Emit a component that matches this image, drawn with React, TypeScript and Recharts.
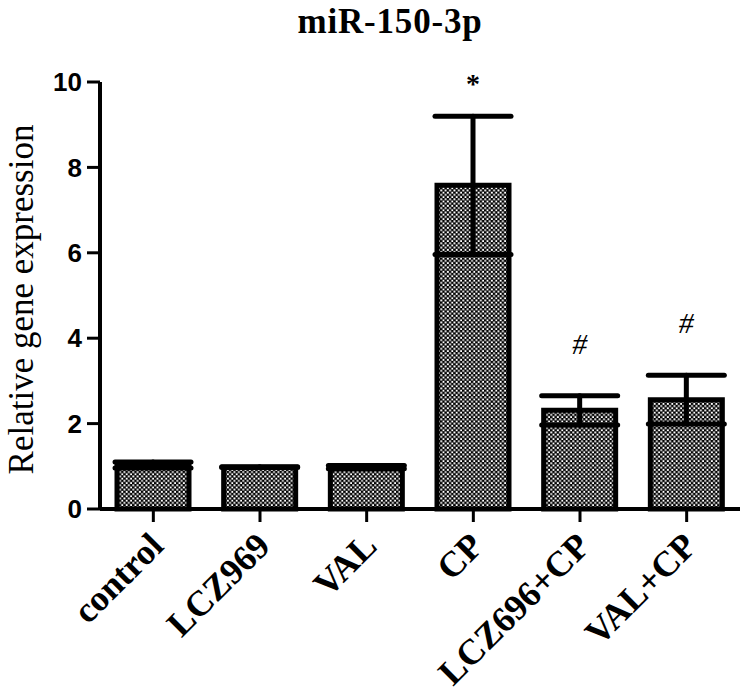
import React from 'react';
import { BarChart, Bar, XAxis, YAxis, ErrorBar, LabelList } from 'recharts';

// Group names, means and SEMs
const groups = ['control', 'LCZ969', 'VAL', 'CP', 'LCZ696+CP', 'VAL+CP'];
const means = [1.03, 0.98, 0.98, 7.58, 2.31, 2.56];
const sems = [0.07, 0.01, 0.04, 1.62, 0.34, 0.57];
const marks = ['', '', '', '*', '#', '#'];
const yTicks = [0, 2, 4, 6, 8, 10];

const data = groups.map((g, i) => ({ name: g, value: means[i], err: sems[i], mark: marks[i] }));

if (typeof document !== 'undefined') document.body.style.margin = '0';

const SERIF = '"Liberation Serif", "Times New Roman", serif';
const SANS = '"Liberation Sans", Arial, sans-serif';

const XTick = (props: any) => {
    const { x, y, payload } = props;
    const px = x + 12;
    const py = y + 24;
    return (
        <text
            x={px}
            y={py}
            transform={`rotate(-45 ${px} ${py})`}
            textAnchor="end"
            fontFamily={SERIF}
            fontWeight="bold"
            fontSize={36}
            fill="#000"
        >
            {payload.value}
        </text>
    );
};

// significance marks sit above the upper error cap
const MarkLabel = (props: any) => {
    const { x, y, width, height, index } = props;
    const d = data[index];
    if (!d || !d.mark) return null;
    const unit = height / d.value;
    const capY = y - d.err * unit;
    const isStar = d.mark === '*';
    return (
        <text
            x={x + width / 2}
            y={capY - (isStar ? 23 : 42)}
            textAnchor="middle"
            fontFamily={SERIF}
            fontWeight={isStar ? 'bold' : 'normal'}
            fontStyle={isStar ? 'normal' : 'italic'}
            fontSize={isStar ? 28 : 30}
            fill="#000"
        >
            {d.mark}
        </text>
    );
};

export default function App() {
    return (
        <div style={{ width: 743, height: 698, background: '#fff', position: 'relative' }}>
            <svg
                width={743}
                height={60}
                style={{ position: 'absolute', left: 0, top: 0, pointerEvents: 'none' }}
            >
                <text
                    x={390}
                    y={33}
                    textAnchor="middle"
                    fontFamily={SERIF}
                    fontWeight="bold"
                    fontSize={35}
                    letterSpacing={0.8}
                    fill="#000"
                >
                    miR-150-3p
                </text>
            </svg>
            <BarChart
                width={743}
                height={698}
                data={data}
                margin={{ top: 82, right: 3, left: 0, bottom: 0 }}
                barCategoryGap={0}
            >
                <defs>
                    <pattern id="checks" width="4.4" height="4.4" patternUnits="userSpaceOnUse">
                        <rect width="4.4" height="4.4" fill="#000" />
                        <rect x="0.3" y="0.3" width="1.9" height="1.9" fill="#fff" />
                        <rect x="2.5" y="2.5" width="1.9" height="1.9" fill="#fff" />
                    </pattern>
                </defs>
                <XAxis
                    dataKey="name"
                    height={189}
                    interval={0}
                    tickSize={13}
                    tick={<XTick />}
                    axisLine={{ stroke: '#000', strokeWidth: 4 }}
                    tickLine={{ stroke: '#000', strokeWidth: 3 }}
                />
                <YAxis
                    width={100}
                    domain={[0, 10]}
                    ticks={yTicks}
                    tickSize={13}
                    tickMargin={5}
                    axisLine={{ stroke: '#000', strokeWidth: 4 }}
                    tickLine={{ stroke: '#000', strokeWidth: 3 }}
                    tick={{ fill: '#000', fontSize: 26, fontWeight: 'bold', fontFamily: SANS }}
                    label={{
                        content: (p: any) => {
                            const vb = p.viewBox;
                            const cy = vb.y + vb.height / 2 + 4;
                            return (
                                <text
                                    x={33}
                                    y={cy}
                                    transform={`rotate(-90 33 ${cy})`}
                                    textAnchor="middle"
                                    fontFamily={SERIF}
                                    fontSize={35}
                                    fill="#000"
                                >
                                    Relative gene expression
                                </text>
                            );
                        },
                    }}
                />
                <Bar
                    dataKey="value"
                    barSize={72}
                    fill="url(#checks)"
                    stroke="#000"
                    strokeWidth={5}
                    isAnimationActive={false}
                >
                    <ErrorBar
                        dataKey="err"
                        width={38}
                        stroke="#000"
                        strokeWidth={5}
                        strokeLinecap="round"
                        isAnimationActive={false}
                    />
                    <LabelList dataKey="mark" content={<MarkLabel />} />
                </Bar>
            </BarChart>
        </div>
    );
}
